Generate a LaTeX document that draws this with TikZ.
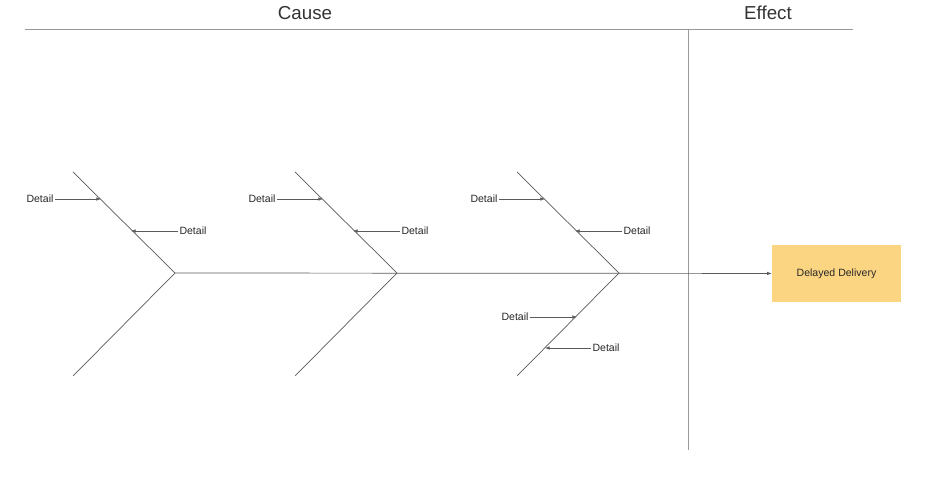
\documentclass[tikz,border=0pt]{standalone}
\usepackage{fontspec}
\setmainfont{Liberation Sans}
\usetikzlibrary{arrows.meta}
\definecolor{boneline}{HTML}{5A5A5A}
\definecolor{effectfill}{HTML}{FCD583}
\tikzset{
  bone/.style={draw=boneline, line width=0.6pt},
  detail/.style={font=\fontsize{9}{10}\selectfont, text=black!85, inner sep=1pt},
  tick/.style={draw=boneline, line width=0.5pt, -{Latex[length=4pt,width=3pt]}},
  heading/.style={font=\fontsize{16}{18}\selectfont, text=black!80},
  effectbox/.style={fill=effectfill, minimum width=129*0.03cm, minimum height=57*0.03cm,
    font=\fontsize{9}{10}\selectfont, text=black!85}
}
\begin{document}
\begin{tikzpicture}[x=0.03cm, y=-0.03cm]
    \useasboundingbox (0,0) rectangle (938,481);
    % headings and frame lines
    \node[heading] (cause) at (305,13) {Cause};
    \node[heading] (effect) at (768,13) {Effect};
    \coordinate (topl) at (25,29);
    \coordinate (topr) at (853,29);
    \coordinate (divb) at (688,450);
    \coordinate (divt) at (688,29);
    \draw[draw=black!40, line width=0.5pt] (topl) -- (topr);
    \draw[draw=black!40, line width=0.5pt] (divt) -- (divb);
    % effect
    \node[effectbox] (delay) at (836.5,273.5) {Delayed Delivery};
    % bones
    \foreach \i/\dx in {1/0, 2/222, 3/444} {
        \coordinate (j\i) at (175+\dx,273);
        \coordinate (u\i) at (73+\dx,172);
        \coordinate (l\i) at (73+\dx,376);
        \draw[bone] (u\i) -- (j\i) -- (l\i);
        \node[detail] (da\i) at (40+\dx,199) {Detail};
        \node[detail] (db\i) at (193+\dx,231) {Detail};
        \coordinate (ta\i) at (101+\dx,199);
        \coordinate (tb\i) at (131+\dx,231);
        \draw[tick] (da\i) -- (ta\i);
        \draw[tick] (db\i) -- (tb\i);
    }
    \draw[bone, -{Latex[length=4pt,width=3pt]}] (j1) -- (delay);
    % lower details on the third bone
    \node[detail] (dc3) at (515,317) {Detail};
    \node[detail] (dd3) at (606,348) {Detail};
    \coordinate (tc3) at (577,317);
    \coordinate (td3) at (545,348);
    \draw[tick] (dc3) -- (tc3);
    \draw[tick] (dd3) -- (td3);
\end{tikzpicture}
\end{document}
